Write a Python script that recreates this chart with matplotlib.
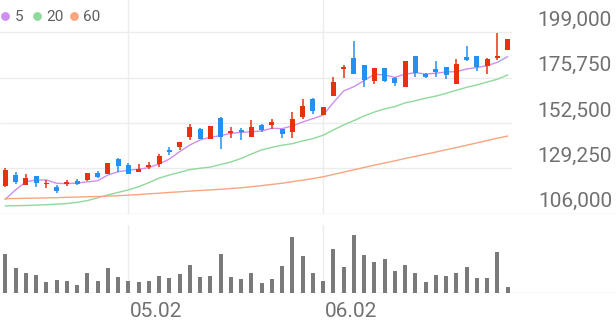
import numpy as np
import matplotlib
matplotlib.use("Agg")
import matplotlib.pyplot as plt
from matplotlib.lines import Line2D

plt.rcParams["font.family"] = ["Roboto", "DejaVu Sans"]

# daily OHLC (won), 50 sessions
OPEN = [120400, 126000, 120900, 125300, 121100, 119500, 121400, 122900, 123300, 126700,
        126500, 134000, 131000, 127500, 129800, 131300, 138700, 140400, 145200, 149400,
        144300, 155200, 147500, 148900, 145200, 151600, 151500, 149300, 148000, 155700,
        164800, 156500, 166500, 180000, 185700, 182200, 174200, 180600, 175700, 171000,
        187000, 177600, 180300, 181100, 172700, 186300, 186700, 181600, 186000, 189900]
HIGH = [129300, 127200, 126500, 125300, 123300, 120700, 123400, 123800, 126700, 128100,
        132200, 134400, 131800, 131600, 132400, 136800, 140000, 142600, 151800, 149900,
        151000, 155600, 150600, 149800, 153900, 151800, 154700, 149300, 158300, 164700,
        165500, 160900, 176200, 182100, 194500, 182200, 180600, 180600, 176200, 184100,
        187000, 178300, 184100, 181100, 185200, 192000, 186700, 186000, 198800, 195400]
LOW = [119800, 121200, 120900, 119700, 119300, 116800, 120400, 120700, 122900, 124200,
       126500, 127500, 126500, 127200, 128900, 129800, 136300, 138500, 143600, 144300,
       144300, 139000, 144700, 143900, 145200, 147900, 149600, 145000, 145000, 154400,
       157000, 156500, 166300, 175700, 177500, 171100, 172300, 173500, 171500, 171000,
       175900, 175400, 176200, 174900, 172300, 184300, 179300, 177600, 185000, 189900]
CLOSE = [128400, 122100, 124500, 121900, 121900, 117800, 122100, 121400, 126700, 125000,
         132200, 130300, 126500, 129100, 131000, 135400, 137600, 142600, 150500, 144300,
         151000, 145300, 148600, 147700, 150600, 148900, 153000, 146900, 154400, 161200,
         158700, 160900, 173400, 181100, 177800, 174600, 180600, 174200, 172900, 184100,
         178300, 175900, 178800, 177000, 182600, 184700, 181100, 185500, 186700, 195400]

MA5 = [113400, 118200, 122300, 123300, 123300, 121600, 121400, 121700, 122300, 122900,
       125800, 127500, 128300, 128800, 129600, 131500, 134000, 137800, 141200, 143800,
       145200, 146000, 147200, 147700, 148000, 148400, 149800, 149600, 151000, 153000,
       154700, 156500, 162900, 168900, 171100, 174200, 177500, 177100, 175900, 177500,
       178300, 177600, 178000, 178700, 178800, 180200, 180900, 181900, 183600, 186500]
MA20 = [110000, 110100, 110200, 110400, 110600, 110900, 111200, 111800, 112700, 114100,
        115600, 116900, 118200, 119800, 121900, 124200, 125800, 127200, 128600, 129300,
        129900, 131200, 132500, 134300, 136600, 138700, 140000, 141100, 141900, 143300,
        144500, 146200, 148900, 151500, 153700, 156100, 158100, 159700, 160900, 162800,
        163900, 165200, 166300, 167700, 169300, 170800, 172000, 173500, 174900, 177100]
MA60 = [113700, 113800, 113900, 114000, 114100, 114200, 114400, 114500, 114700, 114800,
        115000, 115200, 115500, 115800, 116200, 116500, 116900, 117200, 117600, 117900,
        118200, 118500, 118900, 119300, 119800, 120400, 121000, 121600, 122400, 123200,
        124000, 124900, 126100, 127300, 128500, 129700, 130900, 132000, 133100, 134300,
        135400, 136500, 137600, 138800, 139900, 141100, 142300, 143500, 144700, 145800]

VOLUME = [390, 250, 200, 180, 110, 130, 120, 80, 200, 120, 250, 160, 120, 110, 120, 170,
          150, 190, 280, 160, 170, 390, 160, 140, 200, 100, 147, 270, 567, 370, 203, 123,
          440, 267, 580, 387, 310, 343, 227, 283, 203, 110, 183, 177, 207, 267, 157, 157,
          410, 67]

PRICE_TICKS = [106000, 129250, 152500, 175750, 199000]
DATE_POS = [12, 31]
DATE_LABELS = ["05.02", "06.02"]

MA_SERIES = [("5", MA5, "#cf8ef0"), ("20", MA20, "#8fd99c"), ("60", MA60, "#f9a57f")]
UP, DOWN = "#e8310e", "#2390f2"
GRID = "#ececec"
TXT = "#717171"

x = np.arange(len(CLOSE))
o, h, l, c = map(np.array, (OPEN, HIGH, LOW, CLOSE))
up = c >= o
colors = np.where(up, UP, DOWN)

fig = plt.figure(figsize=(6.16, 3.21), dpi=100)
ax = fig.add_axes([0, 0.3343, 1, 0.6657])
axv = fig.add_axes([0, 0.0863, 1, 0.2128])

xmin, xmax, xgrid = -0.517, 59.58, 49.45
for a in (ax, axv):
    a.set_xlim(xmin, xmax)
    a.axis("off")
    for p in DATE_POS:
        a.axvline(p, color=GRID, lw=1, zorder=0)

ax.set_ylim(106000, 215560)
ax.hlines(PRICE_TICKS[1:], xmin, xgrid, color=GRID, lw=1, zorder=0)
ax.axhline(PRICE_TICKS[0], color="#dedede", lw=1, zorder=0)

for lab, vals, col in MA_SERIES:
    ax.plot(x, vals, color=col, lw=1.0, zorder=2)

ax.vlines(x, l, h, color=colors, lw=1.1, zorder=3)
body_lo = np.minimum(o, c)
body_h = np.maximum(np.abs(c - o), 500)
ax.bar(x, body_h, 0.48, bottom=body_lo, color=colors, zorder=4)

blend = ax.get_yaxis_transform()
for v in PRICE_TICKS:
    ax.annotate(f"{v:,}", xy=(1, v), xycoords=blend, xytext=(-4, 6.5),
                textcoords="offset pixels", ha="right", va="baseline",
                fontsize=15, color=TXT)

# legend: dot + period
lx = [5, 36.5, 73.5]
for (lab, vals, col), px in zip(MA_SERIES, lx):
    fig.add_artist(Line2D([px / 616], [1 - 16 / 321], marker="o", ms=5.3, color=col,
                          lw=0, transform=fig.transFigure))
    fig.text((px + 10) / 616, 1 - 21 / 321, lab, fontsize=11, color="#5e5e5e",
             ha="left", va="baseline")

axv.set_ylim(0, 683)
axv.bar(x, VOLUME, 0.39, color="#7a7a7a", zorder=2)
axv.axhline(0, color="#dedede", lw=1, zorder=1)
for p, lab in zip(DATE_POS, DATE_LABELS):
    axv.annotate(lab, xy=(p, 0), xycoords=("data", "axes fraction"), xytext=(1.5, -23.5),
                 textcoords="offset pixels", ha="left", va="baseline",
                 fontsize=15, color=TXT)

fig.savefig("out.png", dpi=100)
